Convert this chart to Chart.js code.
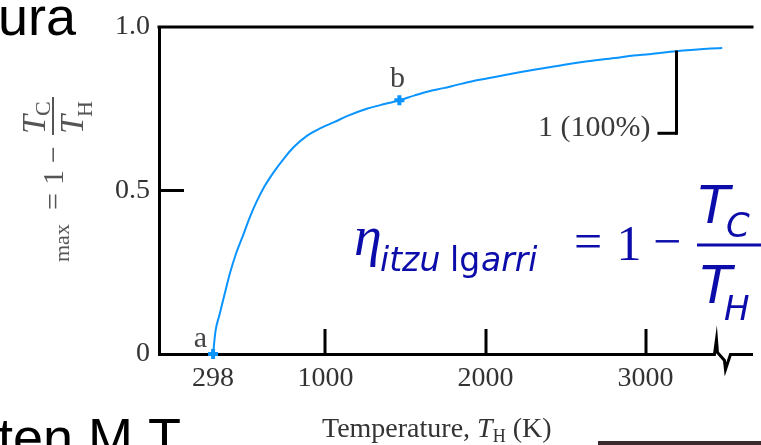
<!DOCTYPE html>
<html><head><meta charset="utf-8">
<script src="https://cdn.jsdelivr.net/npm/chart.js@4.4.0/dist/chart.umd.min.js"></script>
<style>html,body{margin:0;padding:0;background:#fff;overflow:hidden}#wrap{width:761px;height:445px;position:relative}</style>
</head><body><div id="wrap"><canvas id="c" width="761" height="445"></canvas></div>
<script>
// ---- data ----
const temperaturesK = [298, 313, 338, 358, 381, 405, 440, 487, 529, 569, 616, 678, 744, 802, 886, 958, 1054, 1138, 1258, 1342, 1462, 1558, 1642, 1737, 1822, 1918, 2015, 2122, 2230, 2362, 2483, 2638, 2807, 2926, 3022, 3191, 3407, 3479];
const efficiency   = [0, 0.07, 0.12, 0.16, 0.205, 0.25, 0.305, 0.365, 0.42, 0.465, 0.51, 0.557, 0.60, 0.633, 0.668, 0.688, 0.709, 0.728, 0.750, 0.761, 0.776, 0.791, 0.803, 0.813, 0.823, 0.834, 0.843, 0.853, 0.863, 0.874, 0.884, 0.895, 0.905, 0.913, 0.917, 0.926, 0.934, 0.936];
const markedTemps = [298, 1462];
const markedEffs  = [0, 0.776];
const markLabels  = ['a', 'b'];
const xTickValues = [298, 1000, 2000, 3000];
const xTickLabels = ['298', '1000', '2000', '3000'];
const yTickValues = [0, 0.5, 1];
const yTickLabels = ['0', '0.5', '1.0'];
const xInnerTicks = [1000, 2000, 3000];
const yInnerTicks = [0.5];
const bracketTemp = 3190, bracketTop = 0.928, bracketBottom = 0.675;
const bracketLabel = '1 (100%)';
const breakTemp = 3468;

const BLUE = '#0a94ff';
const SERIF = '"Liberation Serif", "DejaVu Serif", serif';
const SANS = '"DejaVu Sans", "Liberation Sans", sans-serif';

const decor = {
  id: 'decor',
  beforeDraw(chart) {
    const ctx = chart.ctx;
    ctx.save(); ctx.fillStyle = '#fff'; ctx.fillRect(0, 0, chart.width, chart.height); ctx.restore();
  },
  afterDraw(chart) {
    const { ctx, chartArea: ca, scales: { x, y } } = chart;
    ctx.save();
    ctx.fillStyle = '#000';
    // top frame line
    ctx.fillRect(ca.left - 1.5, ca.top - 1.5, ca.right - ca.left + 3, 3);
    // inward ticks
    xInnerTicks.forEach(v => { const px = Math.round(x.getPixelForValue(v)); ctx.fillRect(px - 1.5, ca.bottom - 25, 3, 25); });
    yInnerTicks.forEach(v => { const py = y.getPixelForValue(v); ctx.fillRect(ca.left, py - 1.5, 25, 3); });
    // axis break
    const bp = x.getPixelForValue(breakTemp);
    const by = y.getPixelForValue(0) + 0.5;
    ctx.fillStyle = '#fff'; ctx.fillRect(bp - 10, by - 4, 22, 8);
    ctx.strokeStyle = '#000'; ctx.lineWidth = 3; ctx.lineJoin = 'miter';
    ctx.beginPath();
    ctx.moveTo(bp - 11, by); ctx.lineTo(bp - 6, by); ctx.lineTo(bp - 4, by - 15);
    ctx.lineTo(bp - 3, by - 2); ctx.lineTo(bp + 4, by + 6); ctx.lineTo(bp + 5, by + 15);
    ctx.lineTo(bp + 10, by); ctx.lineTo(bp + 13, by);
    ctx.stroke();
    // bracket
    const bx = Math.round(x.getPixelForValue(bracketTemp)) + 0.5;
    const bt = y.getPixelForValue(bracketTop), bb = y.getPixelForValue(bracketBottom);
    ctx.fillStyle = '#000';
    ctx.fillRect(bx - 1.5, bt, 3, bb - bt + 1.5);
    ctx.fillRect(bx - 19, bb - 1.5, 19, 3);
    ctx.fillStyle = '#3a3a3a';
    ctx.font = '30px ' + SERIF; ctx.textAlign = 'right'; ctx.textBaseline = 'alphabetic';
    ctx.fillText(bracketLabel, bx - 26, bb + 3);
    // point labels
    ctx.font = '30px ' + SERIF; ctx.fillStyle = '#444';
    const ax = x.getPixelForValue(markedTemps[0]), ay = y.getPixelForValue(markedEffs[0]);
    ctx.textAlign = 'right'; ctx.fillText(markLabels[0], ax - 6, ay - 7);
    const bxp = x.getPixelForValue(markedTemps[1]), byp = y.getPixelForValue(markedEffs[1]);
    ctx.textAlign = 'center'; ctx.fillText(markLabels[1], bxp - 2, byp - 13);

    // x-axis title
    ctx.fillStyle = '#333'; ctx.textAlign = 'left';
    ctx.font = '28px ' + SERIF;
    let tx = 322; const tyb = 437;
    ctx.fillText('Temperature, ', tx, tyb); tx += ctx.measureText('Temperature, ').width;
    ctx.font = 'italic 28px ' + SERIF; ctx.fillText('T', tx, tyb); tx += ctx.measureText('T').width;
    ctx.font = '18px ' + SERIF; ctx.fillText('H', tx, tyb + 5); tx += ctx.measureText('H').width;
    ctx.font = '28px ' + SERIF; ctx.fillText(' (K)', tx, tyb);

    // rotated y-axis title
    ctx.save();
    ctx.translate(63, 262); ctx.rotate(-Math.PI / 2);
    ctx.fillStyle = '#555'; ctx.textAlign = 'left';
    ctx.font = '22px ' + SERIF; ctx.fillText('max', 0, 6);
    ctx.font = '30px ' + SERIF;
    ctx.fillText('=', 52, 0); ctx.fillText('1', 77, 0); ctx.fillText('\u2212', 99, 0);
    ctx.fillRect(127, -11, 38, 2);
    ctx.font = 'italic 34px ' + SERIF; ctx.fillText('T', 128, -18); ctx.fillText('T', 128, 20);
    ctx.font = '22px ' + SERIF; ctx.fillText('C', 146, -13); ctx.fillText('H', 145, 29);
    ctx.restore();

    // blue formula
    ctx.fillStyle = '#0c0caa'; ctx.textAlign = 'left';
    ctx.font = 'italic 56px ' + SERIF; ctx.fillText('\u03b7', 354, 255);
    ctx.font = 'oblique 33px ' + SANS; ctx.fillText('itzu', 380, 271);
    ctx.font = '33px ' + SANS; ctx.fillText('lg', 450, 271);
    ctx.font = 'oblique 33px ' + SANS; ctx.fillText('arri', 481, 271);
    ctx.font = '50px ' + SERIF; ctx.textAlign = 'center';
    ctx.fillText('=', 588, 258); ctx.fillText('1', 629, 260); ctx.fillText('\u2212', 667, 258);
    ctx.textAlign = 'left';
    ctx.fillRect(697, 243.5, 70, 3);
    ctx.font = 'oblique 52px ' + SANS; ctx.fillText('T', 698, 223); ctx.fillText('T', 700, 303);
    ctx.font = 'oblique 34px ' + SANS; ctx.fillText('C', 726, 237); ctx.fillText('H', 724, 320);

    // fragments of surrounding slide text
    ctx.fillStyle = '#000'; ctx.font = '54px "Liberation Sans", Arial, sans-serif'; ctx.textAlign = 'left';
    ctx.fillText('ura', -2, 35);
    ctx.fillText('ten M.T', -2, 456);
    ctx.fillStyle = '#3a2a2e'; ctx.fillRect(598, 441, 163, 4);
    ctx.restore();
  }
};

new Chart(document.getElementById('c'), {
  type: 'line',
  data: {
    datasets: [
      { data: temperaturesK.map((t, i) => ({ x: t, y: efficiency[i] })), borderColor: BLUE, borderWidth: 2,
        pointRadius: 0, cubicInterpolationMode: 'monotone', fill: false },
      { data: markedTemps.map((t, i) => ({ x: t, y: markedEffs[i] })), showLine: false, pointStyle: 'cross',
        pointRadius: 5, pointBorderWidth: 4, pointBorderColor: BLUE, borderColor: BLUE, clip: false }
    ]
  },
  options: {
    responsive: false, animation: false, devicePixelRatio: 1,
    layout: { padding: { top: 27, right: 0, bottom: 0, left: 0 } },
    plugins: { legend: { display: false }, tooltip: { enabled: false } },
    scales: {
      x: {
        type: 'linear', min: -40, max: 3665,
        afterBuildTicks: s => { s.ticks = xTickValues.map(v => ({ value: v })); },
        afterFit: s => { s.height = 91; },
        grid: { display: false, drawTicks: false },
        border: { display: true, color: '#000', width: 3 },
        ticks: { autoSkip: false, maxRotation: 0, padding: 8, color: '#333',
          font: { family: 'Liberation Serif', size: 28 }, callback: (v, i) => xTickLabels[i] }
      },
      y: {
        type: 'linear', min: 0, max: 1,
        afterBuildTicks: s => { s.ticks = yTickValues.map(v => ({ value: v })); },
        afterFit: s => { s.width = 159; },
        grid: { display: false, drawTicks: false },
        border: { display: true, color: '#000', width: 3 },
        ticks: { autoSkip: false, padding: 9, color: '#333',
          font: { family: 'Liberation Serif', size: 28 }, callback: (v, i) => yTickLabels[i] }
      }
    }
  },
  plugins: [decor]
});
</script></body></html>
